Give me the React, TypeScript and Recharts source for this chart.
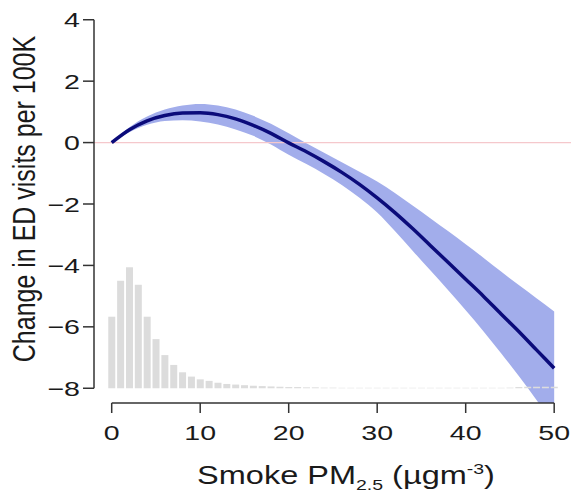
import React from 'react';
import {
  ComposedChart,
  Area,
  Line,
  Bar,
  XAxis,
  YAxis,
  ReferenceLine,
} from 'recharts';

// Smoke PM2.5 values where the fitted curve was read
const curveX = [0, 2, 4, 6, 8, 10, 12, 14, 16, 18, 20, 22, 24, 26, 28, 30, 32, 34, 36, 38, 40, 42, 44, 46, 48, 50];
// Fitted change in ED visits per 100K
const fitValues = [0, 0.42, 0.71, 0.88, 0.96, 0.97, 0.91, 0.77, 0.56, 0.3, -0.01, -0.3, -0.62, -0.97, -1.36, -1.8, -2.28, -2.8, -3.35, -3.9, -4.45, -5.0, -5.58, -6.15, -6.75, -7.35];
// Confidence band
const upperValues = [0, 0.5, 0.85, 1.08, 1.21, 1.26, 1.21, 1.08, 0.87, 0.61, 0.3, -0.02, -0.33, -0.64, -0.95, -1.27, -1.64, -2.05, -2.46, -2.88, -3.31, -3.75, -4.2, -4.64, -5.07, -5.5];
const lowerValues = [0, 0.34, 0.58, 0.7, 0.73, 0.69, 0.59, 0.43, 0.22, -0.06, -0.4, -0.7, -1.02, -1.38, -1.8, -2.28, -2.88, -3.52, -4.16, -4.8, -5.46, -6.14, -6.86, -7.6, -8.38, -9.18];

// Histogram of smoke PM2.5 exposure (bar tops on the y scale, base at -8)
const histX = Array.from({ length: 51 }, (_, i) => i);
const histTops = [
  -5.67, -4.5, -4.06, -4.63, -5.67, -6.4, -6.92, -7.24, -7.48, -7.62,
  -7.71, -7.76, -7.82, -7.86, -7.88, -7.9, -7.92, -7.93, -7.94, -7.95,
  -7.96, -7.96, -7.97, -7.97, -7.98, -7.98, -7.985, -7.985, -7.985, -7.985,
  -7.985, -7.985, -7.985, -7.985, -7.985, -7.985, -7.985, -7.985, -7.985, -7.985,
  -7.985, -7.985, -7.985, -7.985, -7.985, -7.98, -7.96, -7.95, -7.95, -7.95, -7.95,
];
const histBase = -8;

const xTicks = [0, 10, 20, 30, 40, 50];
const yTicks = [-8, -6, -4, -2, 0, 2, 4];

const tableData = histX.map((x, i) => {
  const row: any = { x, hist: [histBase, histTops[i]] };
  const k = curveX.indexOf(x);
  if (k >= 0) {
    row.fit = fitValues[k];
    row.band = [lowerValues[k], upperValues[k]];
  }
  return row;
});

const FONT = '"Liberation Sans", Arial, Helvetica, sans-serif';
const TEXT = '#1a1a1a';
const AXIS = '#333333';
const STRETCH = 1.36;

const fmt = (v: number) => (v < 0 ? '\u2212' + Math.abs(v) : String(v));

const YTick = (props: any) => {
  const { x, y, payload } = props;
  return (
    <text
      transform={`translate(${x},${y}) scale(${STRETCH},1)`}
      textAnchor="end"
      dy="0.36em"
      fontSize={21}
      fill={TEXT}
      fontFamily={FONT}
    >
      {fmt(payload.value)}
    </text>
  );
};

const XTick = (props: any) => {
  const { x, y, payload } = props;
  return (
    <text
      transform={`translate(${x},${y}) scale(${STRETCH},1)`}
      textAnchor="middle"
      dy="0.71em"
      fontSize={21}
      fill={TEXT}
      fontFamily={FONT}
    >
      {fmt(payload.value)}
    </text>
  );
};

export default function App() {
  return (
    <div style={{ position: 'absolute', left: 0, top: 0, width: 571, height: 494, background: '#fff' }}>
      <ComposedChart
        width={571}
        height={494}
        data={tableData}
        margin={{ top: 5, right: 0, bottom: 0, left: 0 }}
      >
        <XAxis
          dataKey="x"
          type="number"
          domain={[-2, 51.9]}
          allowDataOverflow
          ticks={xTicks}
          height={91}
          axisLine={false}
          tickLine={{ stroke: AXIS, strokeWidth: 1.5 }}
          tickSize={10}
          tickMargin={12}
          tick={XTick}
          label={{
            content: () => (
              <text
                transform={`translate(346,484) scale(1.3,1)`}
                textAnchor="middle"
                fontSize={25}
                fill={TEXT}
                fontFamily={FONT}
              >
                Smoke PM
                <tspan fontSize={15} dy={6}>2.5</tspan>
                <tspan dy={-6}> (µgm</tspan>
                <tspan fontSize={15} dy={-10}>-3</tspan>
                <tspan dy={10}>)</tspan>
              </text>
            ),
          }}
        />
        <YAxis
          type="number"
          domain={[-8.48, 4.48]}
          allowDataOverflow
          ticks={yTicks}
          width={94}
          axisLine={false}
          tickLine={{ stroke: AXIS, strokeWidth: 1.5 }}
          tickSize={11}
          tickMargin={3}
          tick={YTick}
          label={{
            content: () => (
              <text
                transform="translate(24,199) rotate(-90) scale(1,1.25)"
                textAnchor="middle"
                dominantBaseline="central"
                fontSize={25}
                fill={TEXT}
                fontFamily={FONT}
              >
                Change in ED visits per 100K
              </text>
            ),
          }}
        />
        <ReferenceLine y={0} stroke="#f5c8cc" strokeWidth={1.2} />
        <Area
          dataKey="band"
          type="monotone"
          connectNulls
          stroke="none"
          fill="#a2adeb"
          fillOpacity={1}
          isAnimationActive={false}
        />
        <Bar dataKey="hist" barSize={7} fill="#dcdcdc" isAnimationActive={false} />
        <Line
          dataKey="fit"
          type="monotone"
          connectNulls
          stroke="#0b0b7a"
          strokeWidth={3.5}
          dot={false}
          activeDot={false}
          isAnimationActive={false}
        />
        <ReferenceLine
          segment={[{ x: -2, y: -8 }, { x: -2, y: 4 }]}
          stroke={AXIS}
          strokeWidth={1.5}
          ifOverflow="visible"
        />
        <ReferenceLine
          segment={[{ x: 0, y: -8.48 }, { x: 50, y: -8.48 }]}
          stroke={AXIS}
          strokeWidth={1.5}
          ifOverflow="visible"
        />
      </ComposedChart>
    </div>
  );
}
